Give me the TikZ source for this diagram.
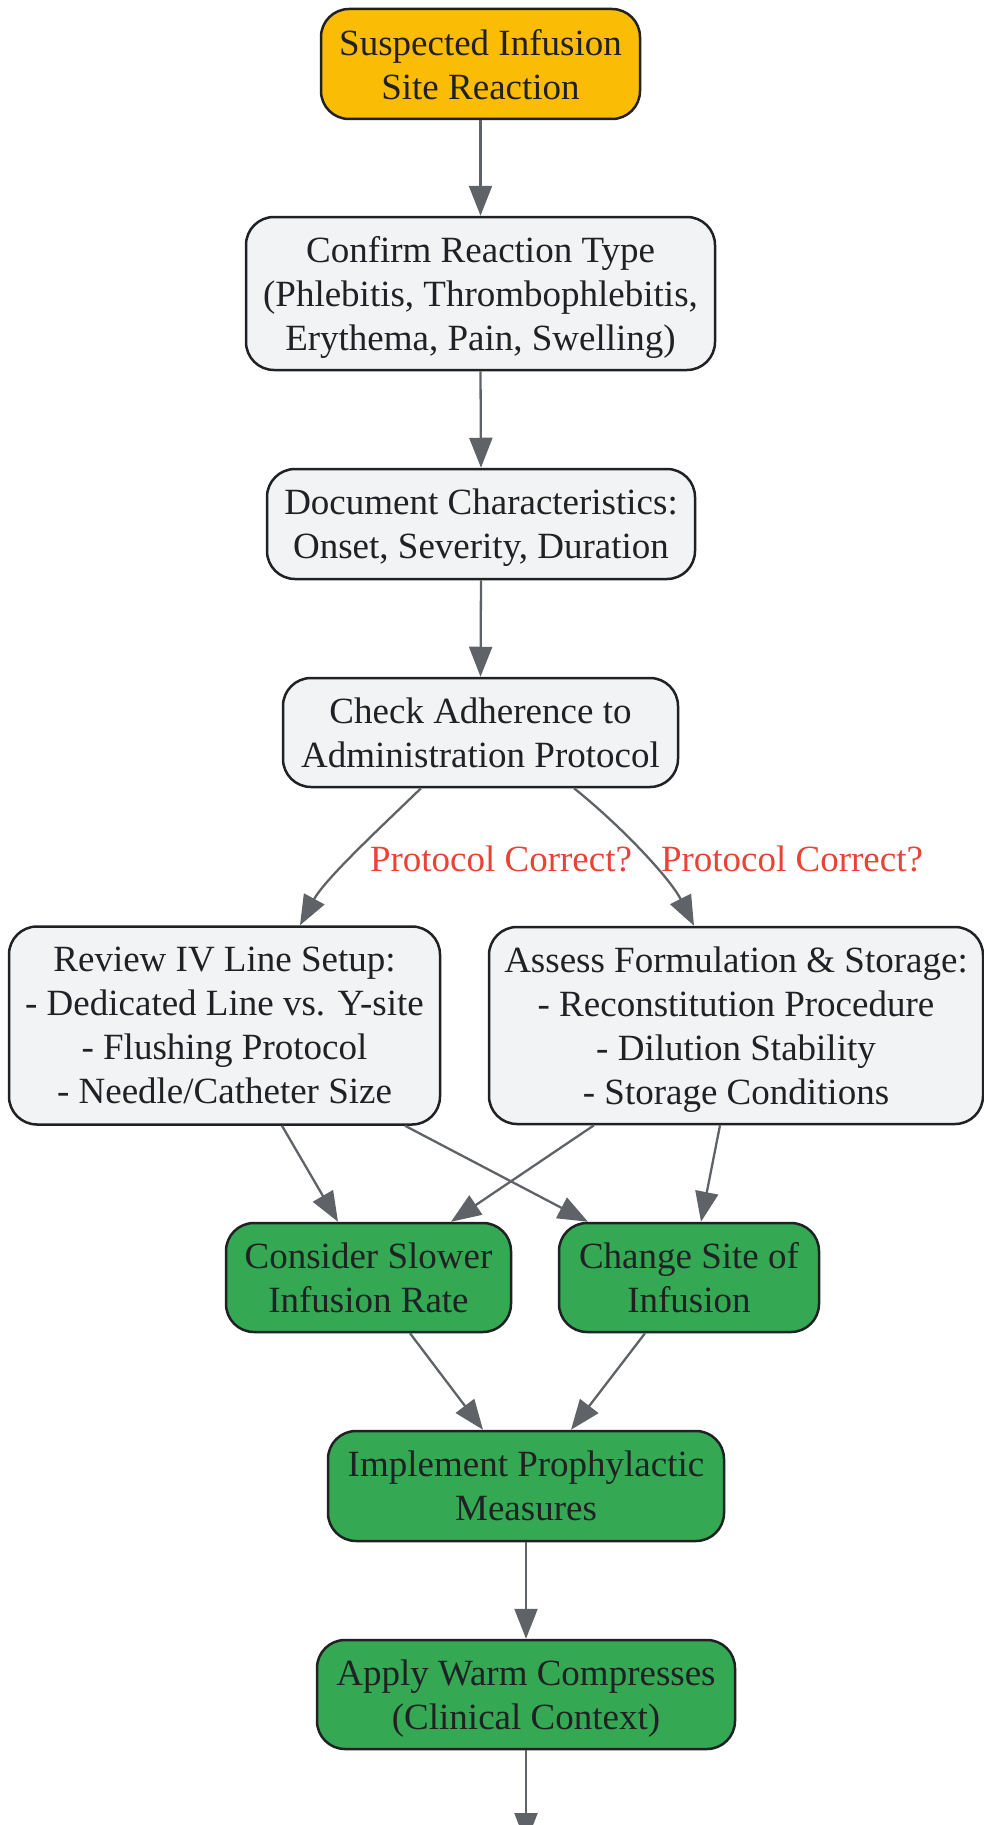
\documentclass[tikz,border=0pt]{standalone}
\usepackage{fontspec}
\setmainfont{Liberation Serif}
\usetikzlibrary{arrows.meta}
\definecolor{yellowfill}{HTML}{FBBC05}
\definecolor{grayfill}{HTML}{F1F3F4}
\definecolor{greenfill}{HTML}{34A853}
\definecolor{borderc}{HTML}{202124}
\definecolor{edgec}{HTML}{5F6368}
\definecolor{labelc}{HTML}{EA4335}
\definecolor{textc}{HTML}{202124}
\tikzset{
  box/.style={draw=borderc, line width=2.5pt, rounded corners=28pt, align=center, inner sep=0pt,
    text=textc, font=\fontsize{37}{44}\selectfont, text depth=-3.5pt},
  startbox/.style={box, fill=yellowfill},
  graybox/.style={box, fill=grayfill},
  greenbox/.style={box, fill=greenfill},
  edge/.style={draw=edgec, line width=2.3pt, -{Triangle[length=30pt,width=23pt]}},
  elabel/.style={text=labelc, font=\fontsize{37}{44}\selectfont, inner sep=0pt}
}
\begin{document}
\begin{tikzpicture}[x=1pt,y=-1pt]
\useasboundingbox (0,0) rectangle (984,1825);
\node[startbox, minimum width=319pt, minimum height=110pt] (n1) at (480.5,64) {Suspected Infusion\\Site Reaction};
\node[graybox, minimum width=469pt, minimum height=153pt] (n2) at (480.5,293.5) {Confirm Reaction Type\\(Phlebitis, Thrombophlebitis,\\Erythema, Pain, Swelling)};
\node[graybox, minimum width=428pt, minimum height=110pt] (n3) at (481,524) {Document Characteristics:\\Onset, Severity, Duration};
\node[graybox, minimum width=395pt, minimum height=109pt] (n4) at (480.5,732.5) {Check Adherence to\\Administration Protocol};
\node[graybox, minimum width=431pt, minimum height=198pt] (n5) at (224.5,1025.5) {Review IV Line Setup:\\- Dedicated Line vs. Y-site\\- Flushing Protocol\\- Needle/Catheter Size};
\node[graybox, minimum width=494pt, minimum height=197pt] (n6) at (736,1025.5) {Assess Formulation \& Storage:\\- Reconstitution Procedure\\- Dilution Stability\\- Storage Conditions};
\node[greenbox, minimum width=285pt, minimum height=109pt] (n7) at (368.5,1277.5) {Consider Slower\\Infusion Rate};
\node[greenbox, minimum width=260pt, minimum height=109pt] (n8) at (689,1277.5) {Change Site of\\Infusion};
\node[greenbox, minimum width=396pt, minimum height=110pt] (n9) at (526,1486) {Implement Prophylactic\\Measures};
\node[greenbox, minimum width=418pt, minimum height=109pt] (n10) at (526,1694.5) {Apply Warm Compresses\\(Clinical Context)};
\coordinate (nend) at (526,1843);

\draw[edge] (n1.south) -- (n2.north);
\draw[edge] (n2.south) -- (n3.north);
\draw[edge] (n3.south) -- (n4.north);
\draw[edge] ([xshift=-59.5pt]n4.south) .. controls (381,827) and (325,879) .. ([xshift=75.5pt]n5.north);
\draw[edge] ([xshift=93.5pt]n4.south) .. controls (620,825) and (670,878) .. ([xshift=-42pt]n6.north);
\node[elabel] (l1) at (501,859) {Protocol Correct?};
\node[elabel] (l2) at (792,859) {Protocol Correct?};
\draw[edge] ([xshift=57.5pt]n5.south) -- ([xshift=-30.5pt]n7.north);
\draw[edge] ([xshift=180.5pt]n5.south) -- ([xshift=-101pt]n8.north);
\draw[edge] ([xshift=-142pt]n6.south) -- ([xshift=82.5pt]n7.north);
\draw[edge] ([xshift=-16pt]n6.south) -- ([xshift=12pt]n8.north);
\draw[edge] ([xshift=41.5pt]n7.south) -- ([xshift=-43pt]n9.north);
\draw[edge] ([xshift=-44pt]n8.south) -- ([xshift=45pt]n9.north);
\draw[edge] (n9.south) -- (n10.north);
\draw[edge] (n10.south) -- (nend);
\end{tikzpicture}
\end{document}
